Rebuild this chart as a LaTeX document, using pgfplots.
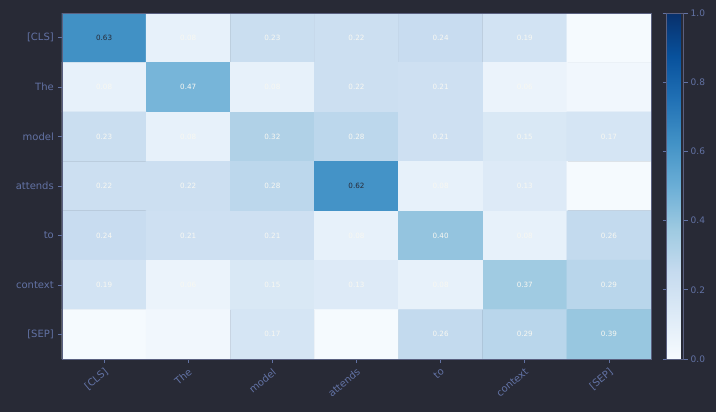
\documentclass[border=0pt]{standalone}
\usepackage{fontspec}
\setmainfont{DejaVu Sans}
\usepackage{pgfplots}
\pgfplotsset{compat=1.18}
\definecolor{bg}{HTML}{282A36}
\definecolor{labelc}{HTML}{6272A4}
\definecolor{framec}{HTML}{5A6080}
\definecolor{darktext}{HTML}{282A36}
\definecolor{lighttext}{HTML}{F8F8F2}
\begin{document}
\begin{tikzpicture}
\path[use as bounding box, fill=bg] (-62pt,-53pt) rectangle (654pt,359pt);
\begin{axis}[
  at={(0pt,0pt)}, anchor=south west,
  scale only axis, width=589pt, height=346pt,
  xmin=-0.5, xmax=6.5, ymin=-0.5, ymax=6.5,
  y dir=reverse,
  enlargelimits=false,
  axis on top,
  colormap={blues}{rgb255(0)=(247,251,255) rgb255(1)=(222,235,247) rgb255(2)=(198,219,239) rgb255(3)=(158,202,225) rgb255(4)=(107,174,214) rgb255(5)=(66,146,198) rgb255(6)=(33,113,181) rgb255(7)=(8,81,156) rgb255(8)=(8,48,107)},
  point meta min=0, point meta max=1,
  xtick={0,...,6}, ytick={0,...,6},
  xticklabels={{[CLS]},The,model,attends,to,context,{[SEP]}},
  yticklabels={{[CLS]},The,model,attends,to,context,{[SEP]}},
  xtick pos=bottom, ytick pos=left,
  tick align=outside, major tick length=4pt,
  tick style={color=labelc, line width=0.6pt},
  axis line style={draw=framec, line width=0.8pt},
  ticklabel style={font=\fontsize{10}{12}\selectfont, color=labelc},
  xticklabel style={rotate=40, anchor=north east, inner sep=3pt},
  yticklabel style={inner sep=4pt},
  colorbar,
  colorbar style={
    at={(parent axis.north east)}, anchor=north west, xshift=7pt,
    width=17pt,
    ytick={0,0.2,0.4,0.6,0.8,1.0},
    yticklabel style={font=\fontsize{9}{10}\selectfont, color=labelc, inner sep=3pt, /pgf/number format/.cd, fixed, fixed zerofill, precision=1, assume math mode=true},
    tick align=outside, major tick length=4pt,
    tick style={color=labelc, line width=0.6pt},
    axis line style={draw=framec, line width=0.6pt},
  },
]
\addplot[matrix plot*, mesh/cols=7, point meta=explicit] table[meta=c] {
x y c
0 0 0.63
1 0 0.08
2 0 0.23
3 0 0.22
4 0 0.24
5 0 0.19
6 0 0.01
0 1 0.08
1 1 0.47
2 1 0.08
3 1 0.22
4 1 0.21
5 1 0.06
6 1 0.03
0 2 0.23
1 2 0.08
2 2 0.32
3 2 0.28
4 2 0.21
5 2 0.15
6 2 0.17
0 3 0.22
1 3 0.22
2 3 0.28
3 3 0.62
4 3 0.08
5 3 0.13
6 3 0.01
0 4 0.24
1 4 0.21
2 4 0.21
3 4 0.08
4 4 0.40
5 4 0.08
6 4 0.26
0 5 0.19
1 5 0.06
2 5 0.15
3 5 0.13
4 5 0.08
5 5 0.37
6 5 0.29
0 6 0.01
1 6 0.03
2 6 0.17
3 6 0.01
4 6 0.26
5 6 0.29
6 6 0.39
};
\addplot[only marks, mark=none, point meta=explicit symbolic,
  nodes near coords, nodes near coords align=center,
  every node near coord/.style={font=\fontsize{7.2}{8}\selectfont, text=darktext, anchor=center}]
  table[meta=l] {
x y l
0 0 0.63
3 3 0.62
};
\addplot[only marks, mark=none, point meta=explicit symbolic,
  nodes near coords, nodes near coords align=center,
  every node near coord/.style={font=\fontsize{7.2}{8}\selectfont, text=lighttext, anchor=center}]
  table[meta=l] {
x y l
1 0 0.08
2 0 0.23
3 0 0.22
4 0 0.24
5 0 0.19
0 1 0.08
1 1 0.47
2 1 0.08
3 1 0.22
4 1 0.21
5 1 0.06
0 2 0.23
1 2 0.08
2 2 0.32
3 2 0.28
4 2 0.21
5 2 0.15
6 2 0.17
0 3 0.22
1 3 0.22
2 3 0.28
4 3 0.08
5 3 0.13
0 4 0.24
1 4 0.21
2 4 0.21
3 4 0.08
4 4 0.40
5 4 0.08
6 4 0.26
0 5 0.19
1 5 0.06
2 5 0.15
3 5 0.13
4 5 0.08
5 5 0.37
6 5 0.29
2 6 0.17
4 6 0.26
5 6 0.29
6 6 0.39
};
\end{axis}
\end{tikzpicture}
\end{document}
